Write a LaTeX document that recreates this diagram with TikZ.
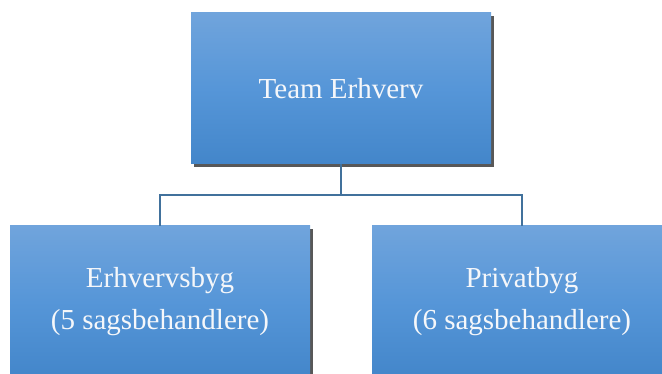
\documentclass[tikz,border=0pt]{standalone}
\usepackage{fontspec}
\setmainfont{Liberation Serif}
\usetikzlibrary{shadows}
\definecolor{boxtop}{RGB}{112,164,220}
\definecolor{boxmid}{RGB}{86,150,216}
\definecolor{boxbot}{RGB}{67,134,202}
\definecolor{linkcol}{RGB}{65,113,156}
\definecolor{shadowcol}{RGB}{88,88,88}
\definecolor{txtcol}{RGB}{245,247,250}
\begin{document}
\begin{tikzpicture}[x=1pt,y=-1pt,
  orgbox/.style={rectangle, minimum width=300pt, minimum height=151pt, inner sep=0pt,
    top color=boxtop, bottom color=boxbot, middle color=boxmid,
    drop shadow={shadow xshift=3pt, shadow yshift=-3pt, fill=shadowcol, opacity=1},
    text=txtcol, align=center, font=\fontsize{29}{42}\selectfont},
  link/.style={draw=linkcol, line width=2pt}]
\useasboundingbox (0,0) rectangle (662,374);
\node[orgbox] (top) at (341,88.5) {Team Erhverv};
\node[orgbox] (left) at (160,301.5) {Erhvervsbyg\\(5 sagsbehandlere)};
\node[orgbox] (right) at (522,301.5) {Privatbyg\\(6 sagsbehandlere)};
\coordinate (bus) at (341,195);
\draw[link] (top.south) -- (bus) -| (left.north);
\draw[link] (bus) -| (right.north);
\end{tikzpicture}
\end{document}
